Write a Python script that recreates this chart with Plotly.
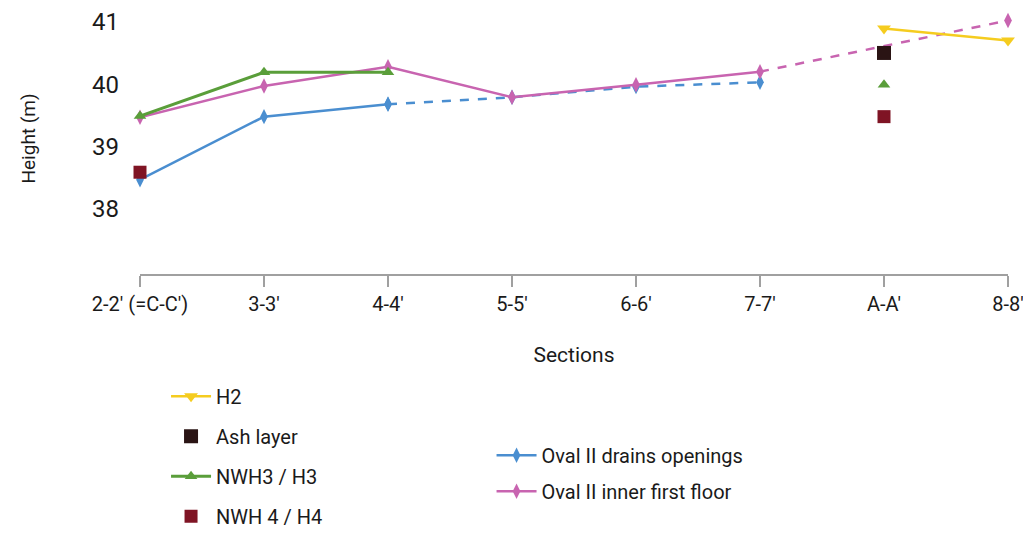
import plotly.graph_objects as go

sections = ["2-2' (=C-C')", "3-3'", "4-4'", "5-5'", "6-6'", "7-7'", "A-A'", "8-8'"]

h2 = [None, None, None, None, None, None, 40.89, 40.70]
ash_layer = [None, None, None, None, None, None, 40.50, None]
nwh3_line = [39.49, 40.19, 40.19, None, None, None, None, None]
nwh3_point = [None, None, None, None, None, None, 39.99, None]
nwh4 = [38.59, None, None, None, None, None, 39.48, None]
drains = [38.47, 39.48, 39.68, 39.79, 39.96, 40.03, None, None]
inner_floor = [39.47, 39.97, 40.28, 39.79, 39.99, 40.20, None, 41.02]

YELLOW = "#f5cc1f"
GREEN = "#5a9e3a"
BLUE = "#4a8ed0"
PINK = "#c864b0"
ASH = "#2a1414"
RED = "#7f1424"
FONT = "Roboto, Liberation Sans, sans-serif"

fig = go.Figure()

# Oval II drains openings: solid part then dashed part
fig.add_trace(go.Scatter(x=sections[:3], y=drains[:3], mode="lines+markers",
                         line=dict(color=BLUE, width=2.5),
                         marker=dict(symbol="diamond-tall", size=11, color=BLUE),
                         name="Oval II drains openings", legend="legend2",
                         legendgroup="d", legendrank=1, cliponaxis=False))
fig.add_trace(go.Scatter(x=sections[2:6], y=drains[2:6], mode="lines+markers",
                         line=dict(color=BLUE, width=2.5, dash="dash"),
                         marker=dict(symbol="diamond-tall", size=11, color=BLUE),
                         showlegend=False, legendgroup="d", cliponaxis=False))

# Oval II inner first floor
fig.add_trace(go.Scatter(x=sections[:6], y=inner_floor[:6], mode="lines+markers",
                         line=dict(color=PINK, width=2.5),
                         marker=dict(symbol="diamond-tall", size=11, color=PINK),
                         name="Oval II inner first floor", legend="legend2",
                         legendgroup="p", legendrank=2, cliponaxis=False))
fig.add_trace(go.Scatter(x=[sections[5], sections[7]], y=[inner_floor[5], inner_floor[7]],
                         mode="lines+markers",
                         line=dict(color=PINK, width=2.5, dash="dash"),
                         marker=dict(symbol="diamond-tall", size=11, color=PINK,
                                     opacity=[0, 1]),
                         showlegend=False, legendgroup="p", cliponaxis=False))

# H2
fig.add_trace(go.Scatter(x=sections, y=h2, mode="lines+markers",
                         line=dict(color=YELLOW, width=2.5),
                         marker=dict(symbol="triangle-down", size=12, color=YELLOW),
                         name="H2", legend="legend", legendgroup="g1", legendrank=1,
                         cliponaxis=False))

# Ash layer
fig.add_trace(go.Scatter(x=sections, y=ash_layer, mode="markers",
                         marker=dict(symbol="square", size=14, color=ASH),
                         name="Ash layer", legend="legend", legendgroup="g2", legendrank=2,
                         cliponaxis=False))

# NWH3 / H3
fig.add_trace(go.Scatter(x=sections, y=nwh3_line, mode="lines+markers",
                         line=dict(color=GREEN, width=3),
                         marker=dict(symbol="triangle-up", size=11, color=GREEN),
                         name="NWH3 / H3", legend="legend", legendgroup="g3", legendrank=3,
                         connectgaps=False, cliponaxis=False))
fig.add_trace(go.Scatter(x=sections, y=nwh3_point, mode="markers",
                         marker=dict(symbol="triangle-up", size=11, color=GREEN),
                         showlegend=False, legendgroup="g3", cliponaxis=False))

# NWH 4 / H4
fig.add_trace(go.Scatter(x=sections, y=nwh4, mode="markers",
                         marker=dict(symbol="square", size=13, color=RED),
                         name="NWH 4 / H4", legend="legend", legendgroup="g4", legendrank=4,
                         cliponaxis=False))

fig.update_layout(
    width=1023, height=539,
    margin=dict(l=140, r=15, t=3, b=258),
    paper_bgcolor="white", plot_bgcolor="white",
    font=dict(family=FONT, size=20, color="#1a1a1a"),
    xaxis=dict(type="category", categoryorder="array", categoryarray=sections,
               range=[0, 7], showgrid=False, zeroline=False, automargin=False,
               showline=True, linecolor="#a0a0a0", linewidth=1.5,
               ticks="outside", ticklen=11, tickcolor="#a0a0a0", tickwidth=1.5,
               tickfont=dict(size=20),
               title=dict(text="Sections", font=dict(size=21), standoff=33)),
    yaxis=dict(range=[36.96, 41.3], tickvals=[38, 39, 40, 41], showgrid=False,
               zeroline=False, showline=False, ticks="", ticklabelstandoff=20,
               automargin=False, tickfont=dict(size=24),
               title=dict(text="Height (m)", font=dict(size=19), standoff=51)),
    legend=dict(x=0.03, y=-0.379, xanchor="left", yanchor="top",
                traceorder="grouped", tracegroupgap=11, itemwidth=40,
                font=dict(size=20), bgcolor="rgba(0,0,0,0)"),
    legend2=dict(x=0.405, y=-0.597, xanchor="left", yanchor="top",
                 traceorder="grouped", tracegroupgap=7, itemwidth=40,
                 font=dict(size=20), bgcolor="rgba(0,0,0,0)"),
)

fig.write_html("out.html", config={"displayModeBar": False},
               post_script="document.body.style.margin='0';document.documentElement.style.overflow='hidden';")
